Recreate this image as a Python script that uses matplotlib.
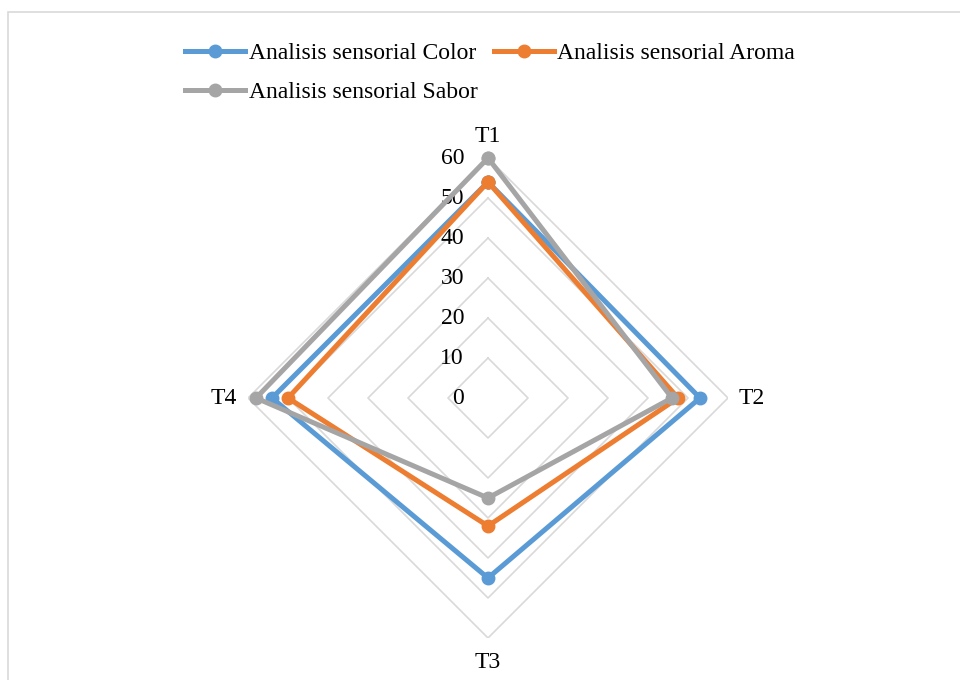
import numpy as np
import matplotlib
matplotlib.use("Agg")
import matplotlib.pyplot as plt
from matplotlib.patches import Rectangle
from matplotlib.transforms import offset_copy

# Data
categories = ["T1", "T2", "T3", "T4"]
color_vals = [54, 53, 45, 54]
aroma_vals = [54, 47.5, 32, 50]
sabor_vals = [60, 46, 25, 58]
series_names = ["Analisis sensorial Color", "Analisis sensorial Aroma", "Analisis sensorial Sabor"]
grid_levels = [0, 10, 20, 30, 40, 50, 60]

colors = ["#5b9bd5", "#ed7d31", "#a5a5a5"]

plt.rcParams["font.family"] = ["Liberation Serif", "DejaVu Serif"]
plt.rcParams["font.size"] = 17

fig = plt.figure(figsize=(9.6, 6.8), dpi=100)
fig.patches.append(Rectangle((8 / 960, -0.1), 1.2, (680 - 12) / 680 + 0.1,
                             transform=fig.transFigure, fill=False,
                             edgecolor="#d9d9d9", linewidth=1.2))

ax = fig.add_axes([248 / 960, 42 / 680, 480 / 960, 480 / 680], projection="polar")
ax.set_theta_offset(np.pi / 2)
ax.set_theta_direction(-1)
ax.set_ylim(0, 60)
ax.grid(False)
ax.spines["polar"].set_visible(False)
ax.set_xticks([])
ax.set_yticks([])
ax.patch.set_alpha(0)

n = len(categories)
angles = np.arange(n) * 2 * np.pi / n
closed = np.append(angles, angles[0])

# polygon gridlines
for lv in grid_levels[1:]:
    ax.plot(closed, [lv] * (n + 1), color="#d9d9d9", lw=1.2, zorder=1)

# radial value labels
lab_tr = offset_copy(ax.transData, fig=fig, x=-24, y=0, units="dots")
for lv in grid_levels:
    ax.text(0, lv, str(lv), transform=lab_tr, ha="right", va="center", fontsize=17)

# category labels
offsets = [(0, 21), (24, 0), (0, -24), (-24, 0)]
for ang, cat, (dx, dy) in zip(angles, categories, offsets):
    tr = offset_copy(ax.transData, fig=fig, x=dx, y=dy, units="dots")
    ax.text(ang, 60, cat, transform=tr, ha="center", va="center", fontsize=17)

lines = []
for vals, name, c in zip([color_vals, aroma_vals, sabor_vals], series_names, colors):
    v = vals + vals[:1]
    ln, = ax.plot(closed, v, color=c, lw=3.6, marker="o", markersize=9,
                  label=name, zorder=3, clip_on=False)
    lines.append(ln)

# legend filled column-wise, so order to get Color, Aroma / Sabor in rows
order = [0, 2, 1]
fig.legend([lines[i] for i in order], [series_names[i] for i in order],
           loc="upper center", bbox_to_anchor=(490 / 960, (680 - 33) / 680),
           ncol=2, frameon=False, fontsize=17, handlelength=2.55,
           handletextpad=0.15, columnspacing=0.68, labelspacing=0.75,
           borderaxespad=0)

fig.savefig("out.png", dpi=100)
